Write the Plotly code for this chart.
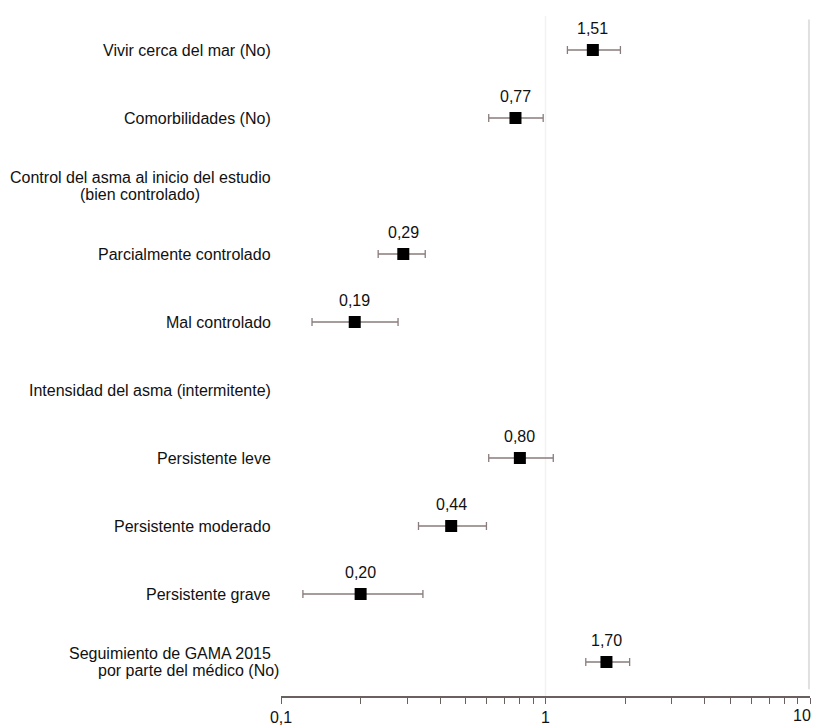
import math
import plotly.graph_objects as go

labels = [
    "Vivir cerca del mar (No)",
    "Comorbilidades (No)",
    "Control del asma al inicio del estudio<br>(bien controlado)",
    "Parcialmente controlado",
    "Mal controlado",
    "Intensidad del asma (intermitente)",
    "Persistente leve",
    "Persistente moderado",
    "Persistente grave",
    "Seguimiento de GAMA 2015<br>por parte del médico (No)",
]
values = [1.51, 0.77, None, 0.29, 0.19, None, 0.80, 0.44, 0.20, 1.70]
ci_low = [1.21, 0.61, None, 0.233, 0.131, None, 0.61, 0.331, 0.121, 1.42]
ci_high = [1.92, 0.98, None, 0.351, 0.277, None, 1.07, 0.598, 0.344, 2.08]

tick_vals = [0.1, 0.2, 0.3, 0.4, 0.5, 0.6, 0.7, 0.8, 0.9, 1, 2, 3, 4, 5, 6, 7, 8, 9, 10]
tick_text = ["0,1", "", "", "", "", "", "", "", "", "1", "", "", "", "", "", "", "", "", ""]
last_tick_label = "10"

xs, ys, em, ep, txt = [], [], [], [], []
for i, v in enumerate(values):
    if v is None:
        continue
    xs.append(v)
    ys.append(i)
    em.append(v - ci_low[i])
    ep.append(ci_high[i] - v)
    txt.append(f"{v:.2f}".replace(".", ","))

fig = go.Figure()
fig.add_trace(go.Scatter(
    x=xs, y=ys, mode="markers",
    marker=dict(symbol="square", size=12, color="black"),
    error_x=dict(type="data", array=ep, arrayminus=em, color="#8a7c7c",
                 thickness=1.3, width=4),
    showlegend=False, hoverinfo="skip",
))

font = dict(family="Liberation Sans, Arial, sans-serif", size=16, color="#111111")
line_gap = 17
char_w = 6.9  # approx. average glyph advance at this font size, to centre 2nd lines

annotations = []
for x, y, t in zip(xs, ys, txt):
    annotations.append(dict(x=math.log10(x), y=y, xref="x", yref="y", text=t,
                            showarrow=False, yshift=22, font=font))

# category labels: each line as its own text so the line spacing stays tight
for i, lab in enumerate(labels):
    parts = lab.split("<br>")
    n = len(parts)
    first_w = len(parts[0]) * char_w
    for k, part in enumerate(parts):
        shift = ((n - 1) / 2 - k) * line_gap
        if k == 0:
            annotations.append(dict(x=0, y=i, xref="paper", yref="y", text=part,
                                    showarrow=False, xanchor="right",
                                    xshift=-8, yshift=shift, font=font))
        else:
            annotations.append(dict(x=0, y=i, xref="paper", yref="y", text=part,
                                    showarrow=False, xanchor="center",
                                    xshift=-10 - first_w / 2, yshift=shift, font=font))

# last x tick label placed as annotation so it is not dropped at the page edge
annotations.append(dict(x=math.log10(tick_vals[-1]), y=0, xref="x", yref="paper",
                        text=last_tick_label, showarrow=False, xanchor="right",
                        yanchor="top", xshift=3, yshift=-9, font=font))

fig.update_layout(
    width=816, height=727,
    margin=dict(l=281, r=6, t=16, b=31),
    plot_bgcolor="white", paper_bgcolor="white",
    font=font,
    xaxis=dict(type="log", range=[-1, 1], tickvals=tick_vals, ticktext=tick_text,
               ticks="outside", ticklen=6, tickcolor="#6b6060", tickwidth=1,
               showline=True, linecolor="#6b6060", linewidth=1.5,
               showgrid=False, zeroline=False, tickfont=font, automargin=False),
    yaxis=dict(range=[9.5, -0.5], showticklabels=False, showgrid=False,
               zeroline=False, showline=False, ticks="", automargin=False),
    annotations=annotations,
    shapes=[
        dict(type="line", xref="x", yref="paper", x0=1, x1=1, y0=0, y1=1,
             line=dict(color="#f2f2f2", width=1.5), layer="below"),
        dict(type="line", xref="paper", yref="paper", x0=0.998, x1=0.998, y0=0.01, y1=0.995,
             line=dict(color="#e0e0e0", width=2), layer="below"),
    ],
)

fig.write_html(
    "out.html",
    config={"displayModeBar": False},
    post_script="document.body.style.margin='0';document.body.style.overflow='hidden';",
)
